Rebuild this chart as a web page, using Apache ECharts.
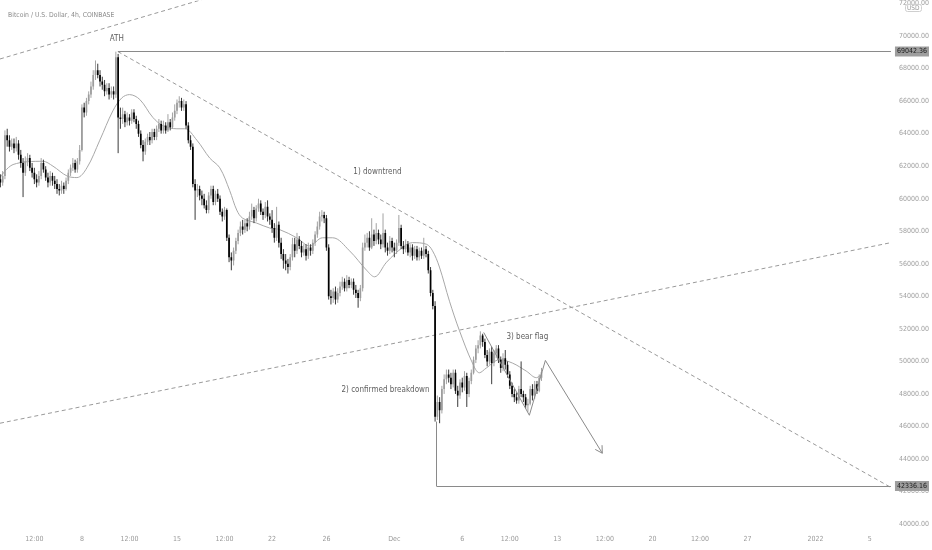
<!DOCTYPE html>
<html>
<head>
<meta charset="utf-8">
<script src="https://cdn.jsdelivr.net/npm/echarts@6/dist/echarts.min.js"></script>
<style>html,body{margin:0;padding:0;background:#fff}#c{width:932px;height:550px}</style>
</head>
<body>
<div id="c"></div>
<script>
// ---- data (prices in thousands of USD, 4h candles starting Nov 2 00:00; x = days since Nov 1) ----
const firstDay = 1;
const opens = [
61.2,61.0,61.4,63.9,63.6,63.2, 63.4,63.1,63.4,62.7,62.2,61.6, 62.3,62.5,61.9,61.6,61.2,61.0, 61.4,62.2,61.8,61.3,61.0,61.4,
61.1,60.9,60.6,60.5,60.8,60.6, 61.1,61.6,61.9,62.2,61.8,62.3, 63.0,65.6,65.3,66.0,66.4,66.9, 67.6,67.9,67.6,67.2,67.0,66.6,
66.8,66.4,66.6,66.4,68.7,65.0, 64.9,65.2,64.7,65.0,64.8,65.3, 64.9,64.6,64.0,63.3,62.9,63.5, 63.8,63.6,64.1,63.8,64.3,64.6,
64.2,64.5,64.2,64.7,64.4,65.0, 65.4,65.9,66.0,65.6,65.8,64.5, 63.6,63.2,60.9,60.5,60.6,60.2, 60.0,59.6,59.3,60.2,60.6,59.8,
60.3,60.0,59.2,58.9,59.3,57.6, 56.4,56.2,56.8,57.4,57.9,58.3, 58.1,58.5,58.3,58.9,59.3,58.8, 59.4,59.7,59.2,59.0,59.5,58.9,
58.7,58.2,57.6,58.4,57.3,56.6, 56.2,56.0,55.8,56.4,57.2,56.8, 57.5,57.1,56.7,56.9,56.5,57.0, 56.8,57.3,57.8,58.3,58.9,59.0,
58.8,57.0,54.0,53.9,54.3,53.8, 54.2,54.6,54.9,54.5,55.0,54.7, 54.9,54.4,54.2,53.9,54.5,57.0, 57.3,57.6,57.0,57.8,57.4,57.9,
57.5,57.2,57.9,57.0,56.8,57.4, 57.0,56.8,57.3,58.2,57.1,56.9, 57.2,56.7,57.0,56.5,56.9,56.4, 56.8,56.5,56.9,56.6,55.6,54.2,
53.4,46.6,47.5,47.0,48.3,48.9, 49.2,49.0,48.6,49.3,48.2,47.9, 48.7,48.4,49.1,48.0,48.8,49.3, 50.1,50.8,51.0,51.6,51.2,50.4,
50.0,50.6,49.9,50.5,50.8,50.1, 49.6,50.2,49.8,49.2,48.5,48.0, 47.8,47.6,48.3,48.0,47.8,47.3, 47.4,48.3,47.9,48.6,48.2,49.0
];
const highs = [
61.5,61.7,64.2,64.3,63.9,63.7, 63.7,63.8,63.6,63.0,62.5,62.6, 62.8,62.7,62.2,61.9,61.5,61.7, 62.5,62.4,62.0,61.6,61.7,61.6,
61.4,61.2,60.9,61.1,61.0,61.3, 61.8,62.1,62.5,62.4,62.5,63.3, 65.8,65.9,66.2,66.6,67.2,67.9, 68.5,68.3,67.9,67.5,67.3,67.1,
67.1,66.9,66.9,69.04,68.9,65.6, 65.6,65.4,65.3,65.2,65.5,65.5, 65.1,64.8,64.2,63.6,63.7,64.0, 64.1,64.3,64.3,64.5,64.9,64.8,
64.8,64.7,65.2,64.9,65.3,65.8, 66.1,66.3,66.2,66.1,66.0,64.7, 63.9,63.4,61.2,60.9,60.8,60.5, 60.3,59.9,60.4,60.8,60.8,60.5,
60.6,60.2,59.4,59.5,59.4,57.8, 56.7,57.0,57.6,58.1,58.6,58.7, 58.7,58.8,59.2,59.7,59.5,59.6, 60.0,59.9,59.4,59.8,59.9,59.1,
59.3,58.5,59.5,58.6,57.6,56.9, 56.6,56.3,56.6,57.6,57.6,57.9, 57.7,57.4,57.2,57.2,57.3,57.2, 57.5,58.0,58.6,59.2,59.3,59.2,
59.0,57.2,54.4,54.5,54.6,54.5, 54.9,55.2,55.1,55.3,55.2,55.1, 55.1,54.7,54.4,54.7,57.3,57.8, 57.9,58.0,58.8,58.1,58.5,58.1,
57.8,59.1,58.1,57.3,57.7,57.6, 57.3,57.5,59.0,58.4,57.4,57.5, 57.4,57.2,57.2,57.1,57.1,57.0, 57.0,57.6,57.1,56.8,55.8,54.4,
53.7,47.9,47.8,48.5,49.2,49.5, 49.5,49.3,49.5,49.5,48.5,48.9, 49.0,49.4,49.3,49.0,49.5,50.3, 51.0,51.3,51.85,51.7,51.4,50.7,
50.8,50.9,50.7,51.0,51.0,50.3, 50.5,50.7,50.0,49.4,48.7,48.3, 48.1,48.5,50.0,48.2,48.0,47.7, 48.5,48.6,48.8,48.8,49.2,49.6
];
const lows = [
60.7,60.8,61.2,63.2,62.9,63.0, 62.8,62.9,62.4,61.9,60.1,61.4, 62.0,61.7,61.3,60.9,60.7,60.8, 61.2,61.6,61.1,60.7,60.8,60.8,
60.6,60.3,60.2,60.3,60.3,60.5, 60.9,61.4,61.7,61.6,61.6,62.1, 62.9,65.0,65.1,65.8,66.2,66.7, 67.3,67.4,66.9,66.7,66.3,66.4,
66.1,66.2,66.1,66.2,62.8,64.3, 64.6,64.4,64.5,64.5,64.6,64.7, 64.3,63.8,63.1,62.3,62.7,63.3, 63.3,63.4,63.6,63.6,64.1,64.0,
64.0,64.0,64.1,64.2,64.3,64.8, 65.2,65.6,65.4,65.4,64.3,63.4, 63.0,60.7,58.7,60.1,59.9,59.6, 59.4,59.1,59.1,60.0,59.6,59.6,
59.8,59.0,58.6,58.7,57.4,56.1, 55.6,55.9,56.6,57.2,57.7,57.8, 57.9,58.0,58.1,58.7,58.5,58.6, 59.2,59.0,58.7,58.8,58.6,58.4,
57.9,57.3,57.4,57.0,56.3,55.7, 55.6,55.4,55.6,56.2,56.4,56.6, 56.9,56.4,56.5,56.2,56.3,56.5, 56.6,57.1,57.6,58.1,58.6,58.5,
56.8,53.8,53.5,53.6,53.5,53.6, 54.0,54.4,54.3,54.3,54.5,54.5, 54.1,53.9,53.3,53.7,54.3,56.8, 57.0,56.8,56.9,57.1,57.2,57.2,
56.9,57.0,56.7,56.5,56.6,56.7, 56.4,56.6,57.1,56.9,56.6,56.7, 56.5,56.4,56.2,56.3,56.2,56.2, 56.3,56.3,56.4,55.4,54.0,53.2,
46.3,46.4,46.2,46.8,48.0,48.6, 48.7,48.3,48.4,48.0,47.2,47.7, 48.1,48.2,47.2,47.8,48.6,49.2, 49.9,50.5,50.8,50.9,50.2,49.7,
49.8,48.6,49.7,50.2,49.9,49.3, 49.4,49.5,49.0,48.3,47.8,47.5, 47.4,47.4,47.8,47.5,47.1,46.9, 47.3,47.6,47.7,48.0,48.1,48.8
];
const closes = [
61.0,61.4,63.9,63.6,63.2,63.4, 63.1,63.4,62.7,62.2,61.6,62.3, 62.5,61.9,61.6,61.2,61.0,61.4, 62.2,61.8,61.3,61.0,61.4,61.1,
60.9,60.6,60.5,60.8,60.6,61.1, 61.6,61.9,62.2,61.8,62.3,63.0, 65.6,65.3,66.0,66.4,66.9,67.6, 67.9,67.6,67.2,67.0,66.6,66.8,
66.4,66.6,66.4,68.7,65.0,64.9, 65.2,64.7,65.0,64.8,65.3,64.9, 64.6,64.0,63.3,62.9,63.5,63.8, 63.6,64.1,63.8,64.3,64.6,64.2,
64.5,64.2,64.7,64.4,65.0,65.4, 65.9,66.0,65.6,65.8,64.5,63.6, 63.2,60.9,60.5,60.6,60.2,60.0, 59.6,59.3,60.2,60.6,59.8,60.3,
60.0,59.2,58.9,59.3,57.6,56.4, 56.2,56.8,57.4,57.9,58.3,58.1, 58.5,58.3,58.9,59.3,58.8,59.4, 59.7,59.2,59.0,59.5,58.9,58.7,
58.2,57.6,58.4,57.3,56.6,56.2, 56.0,55.8,56.4,57.2,56.8,57.5, 57.1,56.7,56.9,56.5,57.0,56.8, 57.3,57.8,58.3,58.9,59.0,58.8,
57.0,54.0,53.9,54.3,53.8,54.2, 54.6,54.9,54.5,55.0,54.7,54.9, 54.4,54.2,53.9,54.5,57.0,57.3, 57.6,57.0,57.8,57.4,57.9,57.5,
57.2,57.9,57.0,56.8,57.4,57.0, 56.8,57.3,58.2,57.1,56.9,57.2, 56.7,57.0,56.5,56.9,56.4,56.8, 56.5,56.9,56.6,55.6,54.2,53.4,
46.6,47.5,47.0,48.3,48.9,49.2, 49.0,48.6,49.3,48.2,47.9,48.7, 48.4,49.1,48.0,48.8,49.3,50.1, 50.8,51.0,51.6,51.2,50.4,50.0,
50.6,49.9,50.5,50.8,50.1,49.6, 50.2,49.8,49.2,48.5,48.0,47.8, 47.6,48.3,48.0,47.8,47.3,47.4, 48.3,47.9,48.6,48.2,49.0,49.34
];
// moving average line (day, price in thousands)
const maDays   = [0.97,1.93,4.13,4.87,5.9,6.63,7.37,8.32,9.28,9.94,10.5,11.26,12.22,12.96,13.99,14.57,15.46,16.41,17.15,17.88,18.4,18.84,19.87,20.82,21.56,22.81,23.76,24.72,25.46,26.7,27.96,28.54,29.43,30.6,31.34,32.37,32.81,33.32,34.06,34.79,35.75,36.26,36.78,37.74,38.69,39.72,40.46,40.83];
const maValues = [61.3,62.1,62.3,62.0,61.4,61.3,61.9,63.6,65.4,66.2,66.4,66.1,65.0,64.5,64.3,64.3,63.6,62.5,61.9,60.5,59.3,58.8,58.5,58.2,58.1,57.6,57.1,57.6,57.6,56.8,55.6,55.2,56.1,57.0,57.3,57.2,56.8,55.8,53.7,51.9,49.9,49.3,49.6,50.1,49.9,49.4,49.0,49.2];
// drawings (day, price in thousands)
const upperChannel = [[0.97,68.59],[16.0,72.28]];
const downtrendLine = [[9.65,69.04236],[66.56,42.25]];
const risingLine = [[0.97,46.2],[66.56,57.3]];
const athLevel = 69.04236;
const lowLevel = 42.33616;
const lowAnchor = [33.1,46.3];
const bearFlagPath = [[36.58,51.78],[39.94,46.69],[41.12,50.06],[45.31,44.356]];
const arrowHead = [[44.79,44.59],[45.31,44.356],[45.29,44.85]];
const lastPrice = 49338.69;
const countdown = '00:26';
const notes = [
  {name:'ATH', d:9.57, p:69.82},
  {name:'1) downtrend', d:28.76, p:61.66},
  {name:'2) confirmed breakdown', d:29.35, p:48.22},
  {name:'3) bear flag', d:39.79, p:51.53}
];
const tickDays = [3.5,7,10.5,14,17.5,21,25,30,35,38.5,42,45.5,49,52.5,56,61,65];
const tickLabels = ['12:00','8','12:00','15','12:00','22','26','Dec','6','12:00','13','12:00','20','12:00','27','2022','5'];
const priceTicks = [40000,42000,44000,46000,48000,50000,52000,54000,56000,58000,60000,62000,64000,66000,68000,70000,72000];
const xMin = 0.97, xMax = 66.56, yMin = 39600, yMax = 72150;

// ---- build ----
const K = 1000;
const FONT = "'Liberation Sans Narrow','DejaVu Sans Condensed',Roboto,sans-serif";
const candles = closes.map((c,i)=>[firstDay + i/6, opens[i]*K, c*K, lows[i]*K, highs[i]*K]);
const toPts = a => a.map(p=>[p[0], p[1]*K]);
const ma = maDays.map((d,i)=>[d, maValues[i]*K]);
const dashStyle = {color:'#9a9a9a', width:1, type:[4,3]};
const solidStyle = {color:'#8a8a8a', width:1, type:'solid'};
function lineSeries(pts, style, z){
  return {type:'line', data:toPts(pts), showSymbol:false, symbol:'none', lineStyle:style, silent:true, z:z||3, animation:false};
}
const tagLabel = (txt)=>({show:true, position:'end', distance:4, formatter:txt, backgroundColor:'#9e9e9e', color:'#1a1a1a', padding:[2,2,1,2], fontSize:7, fontFamily:FONT});

const chart = echarts.init(document.getElementById('c'), null, {renderer:'canvas'});
chart.setOption({
  animation:false,
  backgroundColor:'#ffffff',
  title:[
    {text:'Bitcoin / U.S. Dollar, 4h, COINBASE', left:3, top:7, textStyle:{fontSize:6.8, color:'#8a8a8a', fontWeight:'normal', fontFamily:FONT}},
    {text:'USD', left:905, top:4, padding:[1,2,0,2], borderColor:'#cfcfcf', borderWidth:1, borderRadius:2, backgroundColor:'#fff', textStyle:{fontSize:6.5, color:'#999', fontWeight:'normal', fontFamily:FONT}}
  ],
  grid:{left:0, right:40, top:0, bottom:19.4, containLabel:false},
  xAxis:{type:'value', min:xMin, max:xMax, axisLine:{show:false}, axisTick:{show:false}, splitLine:{show:false},
    axisLabel:{customValues:tickDays, margin:5, fontSize:7, color:'#9a9a9a', fontFamily:FONT,
      formatter:v=>{const i=tickDays.indexOf(v); return i>=0?tickLabels[i]:'';}}},
  yAxis:{type:'value', position:'right', min:yMin, max:yMax, axisLine:{show:false}, axisTick:{show:false}, splitLine:{show:false},
    axisLabel:{customValues:priceTicks, margin:8, fontSize:7, color:'#a0a0a0', fontFamily:FONT, formatter:v=>v.toFixed(2)}},
  series:[
    lineSeries(upperChannel, dashStyle),
    lineSeries(downtrendLine, dashStyle),
    lineSeries(risingLine, dashStyle),
    {type:'line', data:ma, showSymbol:false, symbol:'none', smooth:0.35, lineStyle:{color:'#a8a8a8', width:1}, silent:true, z:4},
    {type:'custom', z:5, clip:true, data:candles, encode:{x:0, y:[1,2,3,4]},
      renderItem:function(params, api){
        const x=api.value(0), o=api.value(1), c=api.value(2), l=api.value(3), h=api.value(4);
        const pO=api.coord([x,o]), pC=api.coord([x,c]), pL=api.coord([x,l]), pH=api.coord([x,h]);
        const up = c>=o;
        const w = 1.7;
        const top = Math.min(pO[1],pC[1]);
        const bh = Math.max(Math.abs(pO[1]-pC[1]), 1);
        return {type:'group', children:[
          {type:'line', shape:{x1:pH[0], y1:pH[1], x2:pL[0], y2:pL[1]}, style:{stroke: up?'#a3a3a3':'#3a3a3a', lineWidth:1}},
          {type:'rect', shape:{x:pO[0]-w/2, y:top, width:w, height:bh}, style:{fill: up?'#9c9c9c':'#000000'}}
        ]};
      }},
    {type:'line', data:[[xMin, athLevel*K]], showSymbol:false, symbol:'none', lineStyle:{opacity:0}, silent:true, z:6,
      markLine:{silent:true, symbol:['none','none'], animation:false, lineStyle:solidStyle,
        data:[
          [{coord:[downtrendLine[0][0], athLevel*K]}, {coord:[xMax, athLevel*K], label:tagLabel((athLevel*K).toFixed(2))}],
          [{coord:[lowAnchor[0], lowAnchor[1]*K], label:{show:false}}, {coord:[lowAnchor[0], lowLevel*K], label:{show:false}}],
          [{coord:[lowAnchor[0], lowLevel*K]}, {coord:[xMax, lowLevel*K], label:tagLabel((lowLevel*K).toFixed(2))}],
          [{coord:[xMin, lastPrice], lineStyle:{opacity:0}}, {coord:[xMax, lastPrice], lineStyle:{opacity:0}, label:{show:true, position:'end', distance:4, formatter:lastPrice.toFixed(2)+'\n'+countdown, backgroundColor:'#000', color:'#fff', padding:[2,3,1,2], fontSize:7, lineHeight:9, fontFamily:FONT}}]
        ]}},
    lineSeries(bearFlagPath, solidStyle, 6),
    lineSeries(arrowHead, solidStyle, 6),
    {type:'scatter', z:7, symbolSize:1, itemStyle:{color:'rgba(0,0,0,0)'}, silent:true,
      data:notes.map(n=>({name:n.name, value:[n.d, n.p*K]})),
      label:{show:true, position:'inside', formatter:'{b}', fontSize:8, color:'#333', fontFamily:FONT}}
  ]
});
</script>
</body>
</html>
